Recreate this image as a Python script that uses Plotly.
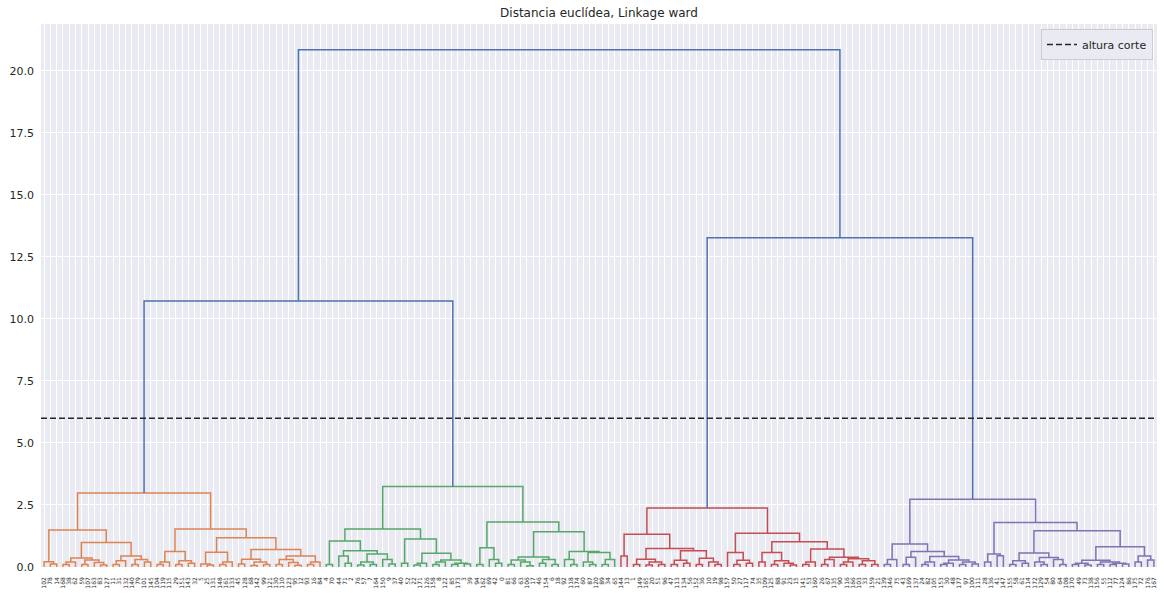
import plotly.graph_objects as go

# ---------------- data ----------------
title_text = "Distancia euclídea, Linkage ward"
cut_height = 6.0
cut_label = "altura corte"

# merge trees: [height, left, right]; integers are leaf ordinals (left-to-right)
orange_tree = [2.98,
    [1.49,
        [0.21, 0, [0.12, 1, 2]],
        [0.99,
            [0.36, [0.2, [0.1, 3, 4], 5], [0.28, [0.1, 6, 7], [0.18, 8, [0.08, 9, 10]]]],
            [0.44, [0.25, [0.1, 11, 12], 13], [0.3, [0.1, 14, 15], [0.2, 16, 17]]]]],
    [1.53,
        [0.62, [0.2, [0.1, 18, 19], 20], [0.25, [0.1, 21, 22], [0.15, 23, 24]]],
        [1.18,
            [0.59, [0.12, 25, [0.08, 26, 27]], [0.2, [0.1, 28, 29], 30]],
            [0.71,
                [0.31, [0.12, 31, 32], [0.2, [0.06, 33, 34], [0.1, 35, 36]]],
                [0.44, [0.3, [0.1, 37, 38], [0.18, 39, [0.07, 40, 41]]], [0.2, [0.1, 42, 43], 44]]]]]]

green_tree = [3.25,
    [1.53,
        [1.05,
            [0.1, 45, 46],
            [0.66, [0.44, 47, [0.15, 48, 49]],
                   [0.52, [0.2, [0.08, 50, 51], [0.1, 52, 53]], [0.3, 54, [0.12, 55, 56]]]]],
        [1.13,
            [0.15, 57, 58],
            [0.55, [0.15, [0.08, 59, 60], 61],
                   [0.28, [0.2, [0.1, 62, 63], 64], [0.15, [0.1, 65, 66], [0.12, 67, 68]]]]]],
    [1.81,
        [0.78, [0.1, 69, 70], [0.3, 71, [0.15, 72, 73]]],
        [1.42,
            [0.4, [0.28, [0.1, 74, 75], [0.2, 76, [0.05, 77, 78]]], [0.3, [0.15, 79, 80], [0.1, 81, 82]]],
            [0.62, [0.3, 83, [0.1, 84, 85]],
                   [0.58, [0.2, 86, [0.1, 87, 88]], [0.3, [0.1, 89, 90], 91]]]]]]

red_tree = [2.38,
    [1.32,
        [0.44, 92, 93],
        [0.75,
            [0.31, [0.1, 94, 95], [0.2, [0.08, 96, 97], [0.1, 98, 99]]],
            [0.66, [0.27, [0.1, 100, 101], [0.15, 102, 103]],
                   [0.35, [0.1, 104, 105], [0.2, 106, [0.1, 107, 108]]]]]],
    [1.36,
        [0.58, 109, [0.27, [0.1, 110, 111], [0.15, 112, 113]]],
        [1.02,
            [0.58, [0.2, 114, 115], [0.25, [0.1, 116, 117], [0.15, 118, [0.08, 119, 120]]]],
            [0.73, [0.2, [0.1, 121, 122], 123],
                   [0.39, [0.3, [0.1, 124, 125], 126],
                          [0.33, [0.2, [0.1, 127, 128], 129], [0.25, [0.1, 130, 131], [0.1, 132, 133]]]]]]]]

purple_tree = [2.73,
    [0.93,
        [0.3, [0.1, 134, 135], 136],
        [0.62, [0.39, [0.1, 137, 138], 139],
               [0.42, [0.2, [0.1, 140, 141], 142],
                      [0.28, [0.15, [0.1, 143, 144], 145], [0.2, [0.1, 146, 147], [0.12, 148, 149]]]]]],
    [1.79,
        [0.52, [0.2, 150, 151], [0.45, 152, 153]],
        [1.46,
            [0.56, [0.25, [0.1, 154, 155], [0.15, 156, 157]],
                   [0.38, [0.2, 158, [0.1, 159, 160]], [0.3, 161, [0.1, 162, 163]]]],
            [0.82, [0.27, [0.15, [0.1, 164, 165], [0.08, 166, 167]],
                          [0.2, [0.1, 168, 169], [0.15, [0.1, 170, 171], [0.12, 172, 173]]]],
                   [0.44, [0.2, 174, 175], [0.28, 176, 177]]]]]]

left_merge_height = 10.72
right_merge_height = 13.27
root_height = 20.85

cluster_colors = ["#dd8452", "#55a868", "#c44e52", "#8172b3"]
above_color = "#4c72b0"

leaf_labels = [
    102, 78, 14, 168, 38, 62, 59, 107, 163, 83, 127, 11, 31, 132, 140, 79, 101, 145, 104, 119,
    115, 29, 151, 143, 32, 5, 25, 131, 148, 161, 133, 45, 128, 68, 142, 99, 121, 130, 110, 123,
    95, 12, 93, 16, 84,
    4, 70, 44, 71, 2, 76, 57, 7, 164, 150, 9, 37, 40, 52, 22, 171, 126, 158, 8, 122,
    85, 173, 3, 39, 94, 162, 69, 42, 0, 81, 66, 63, 106, 17, 46, 154, 6, 18, 92, 118,
    174, 60, 87, 120, 89, 34, 65,
    144, 13, 1, 149, 165, 20, 51, 96, 47, 113, 134, 56, 152, 36, 10, 19, 98, 157, 50, 27,
    117, 74, 35, 109, 125, 88, 91, 23, 15, 141, 53, 160, 26, 67, 135, 90, 116, 166, 103, 33,
    159, 21,
    139, 146, 75, 43, 169, 137, 24, 82, 105, 153, 30, 48, 177, 97, 100, 111, 28, 136, 41, 147,
    155, 58, 61, 114, 172, 129, 54, 80, 64, 108, 170, 49, 73, 138, 156, 55, 112, 77, 124, 86,
    175, 72, 176, 167,
]

y_ticks = [0.0, 2.5, 5.0, 7.5, 10.0, 12.5, 15.0, 17.5, 20.0]

# ---------------- build dendrogram geometry ----------------
segments = {c: ([], []) for c in cluster_colors + [above_color]}
order = []


def place(node, color):
    if isinstance(node, int):
        order.append(node)
        return 5 + 10 * node, 0.0
    h, left, right = node
    xl, hl = place(left, color)
    xr, hr = place(right, color)
    xs, ys = segments[color]
    xs.extend([xl, xl, xr, xr, None])
    ys.extend([hl, h, h, hr, None])
    return (xl + xr) / 2.0, h


def link(a, b, h, color):
    (xl, hl), (xr, hr) = a, b
    xs, ys = segments[color]
    xs.extend([xl, xl, xr, xr, None])
    ys.extend([hl, h, h, hr, None])
    return (xl + xr) / 2.0, h


po = place(orange_tree, cluster_colors[0])
pg = place(green_tree, cluster_colors[1])
pr = place(red_tree, cluster_colors[2])
pp = place(purple_tree, cluster_colors[3])
pl = link(po, pg, left_merge_height, above_color)
prr = link(pr, pp, right_merge_height, above_color)
link(pl, prr, root_height, above_color)

assert order == list(range(len(leaf_labels)))
n_leaves = len(leaf_labels)
x_max = 10 * n_leaves

fig = go.Figure()
for c in cluster_colors + [above_color]:
    xs, ys = segments[c]
    fig.add_trace(go.Scatter(x=xs, y=ys, mode="lines", line=dict(color=c, width=1.5),
                             showlegend=False, hoverinfo="skip"))

fig.add_trace(go.Scatter(x=[0, x_max], y=[cut_height, cut_height], mode="lines",
                         line=dict(color="#262626", width=1.5, dash="6px,3px"),
                         name=cut_label, showlegend=True))

fig.update_layout(
    width=1164, height=593,
    margin=dict(l=41, r=7, t=24, b=26, autoexpand=False),
    paper_bgcolor="white", plot_bgcolor="#eaeaf2",
    font=dict(family="DejaVu Sans", color="#262626", size=11),
    title=dict(text=title_text, x=0.5, xref="paper", xanchor="center",
               y=1 - 13 / 593, yref="container", yanchor="middle",
               font=dict(size=12, color="#262626")),
    legend=dict(x=0.9964, y=0.991, xanchor="right", yanchor="top",
                bgcolor="#eaeaf2", bordercolor="#cccccc", borderwidth=1,
                font=dict(size=11, color="#262626"), itemwidth=30),
    showlegend=True,
)
fig.update_xaxes(range=[0, x_max], tickmode="array",
                 tickvals=[5 + 10 * i for i in range(n_leaves)],
                 ticktext=[str(v) for v in leaf_labels],
                 tickangle=-90, tickfont=dict(size=6, color="#262626"),
                 showgrid=True, gridcolor="white", gridwidth=1,
                 zeroline=False, showline=False, ticks="", ticklabelstandoff=8,
                 automargin=False)
fig.update_yaxes(range=[0, root_height * 1.05], tickmode="array",
                 tickvals=y_ticks, ticktext=[f"{v:.1f}" for v in y_ticks],
                 tickfont=dict(size=11, color="#262626"),
                 showgrid=True, gridcolor="white", gridwidth=1,
                 zeroline=False, showline=False, ticks="", ticklabelstandoff=6,
                 automargin=False)

fig.write_html("out.html")
